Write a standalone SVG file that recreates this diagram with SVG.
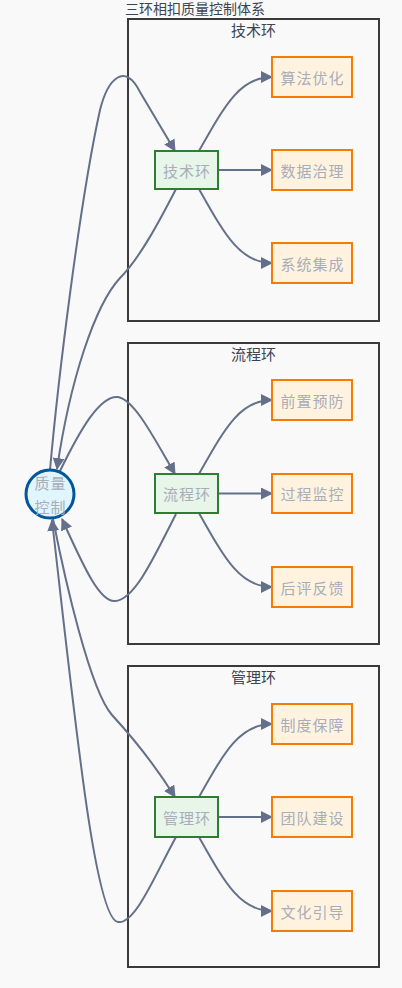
<svg xmlns="http://www.w3.org/2000/svg" width="402" height="988" viewBox="0 0 402 988">
<style>
.bg{fill:#f9f9f9}
.cl{fill:#f9f9f9;stroke:#3a3a3a;stroke-width:2}
.clt{font-family:"Noto Sans CJK SC","Noto Sans",sans-serif;font-size:15px;fill:#3d4451;text-anchor:middle}
.ttl{font-family:"Noto Sans CJK SC","Noto Sans",sans-serif;font-size:14px;fill:#3d4451}
.ring{fill:#e8f5e9;stroke:#2e7d32;stroke-width:2}
.leaf{fill:#fff3e0;stroke:#f57c00;stroke-width:2}
.hub{fill:#e1f5fe;stroke:#01579b;stroke-width:3}
.lbl{font-family:"Noto Sans CJK SC","Noto Sans",sans-serif;font-size:15px;fill:#a7adb9;text-anchor:middle;dominant-baseline:central;letter-spacing:1px}
.e{fill:none;stroke:#64708a;stroke-width:2;marker-end:url(#arr)}
</style>
<defs>
<marker id="arr" viewBox="0 0 12 12" refX="11" refY="6" markerWidth="12" markerHeight="12" markerUnits="userSpaceOnUse" orient="auto">
<path d="M0,0 L12,6 L0,12 z" fill="#64708a"/>
</marker>
</defs>
<rect class="bg" x="0" y="0" width="402" height="988"/>
<text class="ttl" x="125" y="14">三环相扣质量控制体系</text>

<g id="cluster-tech">
<rect class="cl" x="128" y="19" width="251" height="302"/>
<text class="clt" x="253.5" y="36">技术环</text>
</g>
<g id="cluster-process">
<rect class="cl" x="128" y="343" width="251" height="301"/>
<text class="clt" x="253.5" y="360">流程环</text>
</g>
<g id="cluster-mgmt">
<rect class="cl" x="128" y="666" width="251" height="301"/>
<text class="clt" x="253.5" y="683">管理环</text>
</g>

<g id="edges">
<path class="e" d="M50,470 C58,380 80,200 100,110 C108,78 125,62 140,92 L175,151"/>
<path class="e" d="M176,189 C160,220 140,258 120,278 C95,305 70,380 57,469"/>
<path class="e" d="M60,471 C80,430 100,395 118,397 C135,400 155,440 175,474"/>
<path class="e" d="M176,514 C155,555 135,600 115,601 C100,602 85,570 62,519"/>
<path class="e" d="M53,519 C65,580 90,690 112,715 C135,740 158,770 175,797"/>
<path class="e" d="M176,837 C155,875 135,925 118,922 C95,920 75,720 52,520"/>

<path class="e" d="M199,151 C225,105 240,77 272,77"/>
<path class="e" d="M218,170 L272,170"/>
<path class="e" d="M199,189 C225,235 240,263 272,263"/>

<path class="e" d="M199,474 C225,428 240,400 272,400"/>
<path class="e" d="M218,493.5 L272,493.5"/>
<path class="e" d="M199,513 C225,559 240,587 272,587"/>

<path class="e" d="M199,797 C225,751 240,724 272,724"/>
<path class="e" d="M218,817 L272,817"/>
<path class="e" d="M199,837 C225,883 240,911 272,911"/>
</g>

<g id="hub">
<circle class="hub" cx="50" cy="494" r="24"/>
<text class="lbl" x="50.5" y="482">质量</text>
<text class="lbl" x="50.5" y="506">控制</text>
</g>

<g id="ring-tech"><rect class="ring" x="155" y="151" width="63" height="38"/><text class="lbl" x="187" y="170">技术环</text></g>
<g id="leaf-t1"><rect class="leaf" x="272" y="57" width="80" height="40"/><text class="lbl" x="312.5" y="77">算法优化</text></g>
<g id="leaf-t2"><rect class="leaf" x="272" y="150" width="80" height="40"/><text class="lbl" x="312.5" y="170">数据治理</text></g>
<g id="leaf-t3"><rect class="leaf" x="272" y="243" width="80" height="40"/><text class="lbl" x="312.5" y="263">系统集成</text></g>

<g id="ring-process"><rect class="ring" x="155" y="474" width="63" height="39"/><text class="lbl" x="187" y="493.5">流程环</text></g>
<g id="leaf-p1"><rect class="leaf" x="272" y="380" width="80" height="40"/><text class="lbl" x="312.5" y="400">前置预防</text></g>
<g id="leaf-p2"><rect class="leaf" x="272" y="474" width="80" height="39"/><text class="lbl" x="312.5" y="493.5">过程监控</text></g>
<g id="leaf-p3"><rect class="leaf" x="272" y="567" width="80" height="40"/><text class="lbl" x="312.5" y="587">后评反馈</text></g>

<g id="ring-mgmt"><rect class="ring" x="155" y="797" width="63" height="40"/><text class="lbl" x="187" y="817">管理环</text></g>
<g id="leaf-m1"><rect class="leaf" x="272" y="704" width="80" height="40"/><text class="lbl" x="312.5" y="724">制度保障</text></g>
<g id="leaf-m2"><rect class="leaf" x="272" y="797" width="80" height="40"/><text class="lbl" x="312.5" y="817">团队建设</text></g>
<g id="leaf-m3"><rect class="leaf" x="272" y="891" width="80" height="40"/><text class="lbl" x="312.5" y="911">文化引导</text></g>
</svg>
